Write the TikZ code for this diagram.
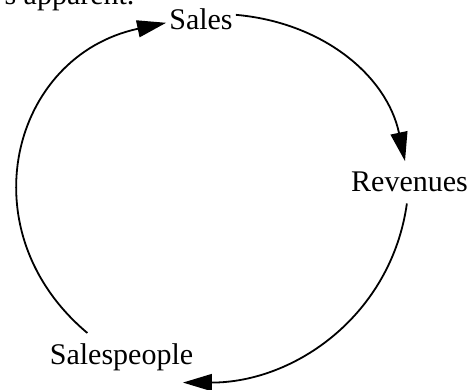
\documentclass[tikz,border=0pt]{standalone}
\usepackage{fontspec}
\setmainfont{Liberation Serif}
\usepackage{tikz}
\usetikzlibrary{arrows.meta}

\begin{document}
\begin{tikzpicture}[x=1pt, y=1pt,
    font=\fontsize{30}{36}\selectfont,
    var/.style={inner xsep=3pt, inner ysep=11pt, anchor=base},
    link/.style={line width=1.8pt, -{Triangle[length=29pt, width=17pt]}}]
    \useasboundingbox (0,0) rectangle (469,390);

    \node[anchor=base east] (note) at (138,385) {s apparent.};
    \node[var] (sales) at (201,360) {Sales};
    \node[var] (rev) at (409.5,198) {Revenues};
    \node[var] (people) at (121.5,25) {Salespeople};

    \draw[link] (sales.8) to[out=-5, in=102] (rev.102);
    \draw[link] (rev.-97) to[out=-98, in=0] (people.-22);
    \draw[link] (people.144) to[out=140, in=-168, looseness=1.27] (sales.185);
\end{tikzpicture}
\end{document}
